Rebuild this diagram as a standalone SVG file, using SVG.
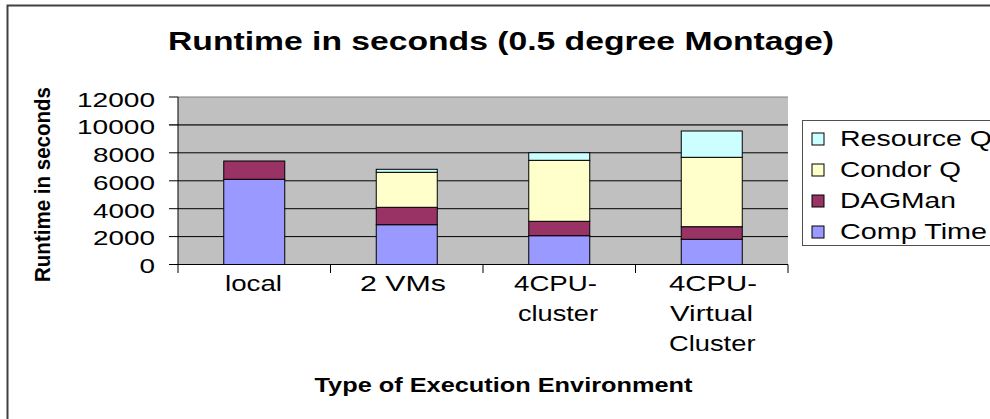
<svg xmlns="http://www.w3.org/2000/svg" width="990" height="419" viewBox="0 0 990 419">
<style>
text{font-family:"Liberation Sans",Arial,sans-serif;fill:#000}
.t{font-size:21.5px}
.n{font-size:20px}
.b{font-weight:bold}
.bar{stroke:#000;stroke-width:1}
.grid{stroke:#000;stroke-width:1}
.ct{fill:#9999FF}.dm{fill:#993366}.cq{fill:#FFFFCC}.rq{fill:#CCFFFF}
</style>
<rect width="990" height="419" fill="#fff"/>
<g id="frame" fill="none" stroke="#404040" stroke-width="2">
<path d="M7.5 419 V5.5 H990"/>
</g>
<g id="title"><text class="b" x="168" y="50" font-size="25" textLength="666" lengthAdjust="spacingAndGlyphs">Runtime in seconds (0.5 degree Montage)</text></g>
<g id="plot">
<rect x="178" y="97" width="610" height="167.5" fill="#C0C0C0"/>
<line x1="178" y1="97" x2="788" y2="97" stroke="#808080"/>
<line x1="169" y1="124.9" x2="788" y2="124.9" stroke="#404040" stroke-width="1.6"/>
<g class="grid">
<line x1="169" y1="152.8" x2="788" y2="152.8"/>
<line x1="169" y1="180.8" x2="788" y2="180.8"/>
<line x1="169" y1="208.7" x2="788" y2="208.7"/>
<line x1="169" y1="236.6" x2="788" y2="236.6"/>
<line x1="169" y1="97" x2="178" y2="97"/>
</g>
</g>
<g id="bar-local" class="bar">
<rect class="ct" x="223.75" y="179.3" width="61" height="85.2"/>
<rect class="dm" x="223.75" y="161" width="61" height="18.3"/>
</g>
<g id="bar-2vms" class="bar">
<rect class="ct" x="376.25" y="224.7" width="61" height="39.8"/>
<rect class="dm" x="376.25" y="207.3" width="61" height="17.4"/>
<rect class="cq" x="376.25" y="172.3" width="61" height="35"/>
<rect class="rq" x="376.25" y="169.3" width="61" height="3"/>
</g>
<g id="bar-4cpu-cluster" class="bar">
<rect class="ct" x="528.75" y="235.7" width="61" height="28.8"/>
<rect class="dm" x="528.75" y="221.3" width="61" height="14.4"/>
<rect class="cq" x="528.75" y="160.3" width="61" height="61"/>
<rect class="rq" x="528.75" y="152.7" width="61" height="7.6"/>
</g>
<g id="bar-4cpu-virtual" class="bar">
<rect class="ct" x="681.25" y="239.3" width="61" height="25.2"/>
<rect class="dm" x="681.25" y="226.7" width="61" height="12.6"/>
<rect class="cq" x="681.25" y="157.3" width="61" height="69.4"/>
<rect class="rq" x="681.25" y="131" width="61" height="26.3"/>
</g>
<g id="axes" stroke="#000" stroke-width="1">
<line x1="178" y1="97" x2="178" y2="273"/>
<line x1="169" y1="264.5" x2="788" y2="264.5"/>
<line x1="330.5" y1="264.5" x2="330.5" y2="273"/>
<line x1="483" y1="264.5" x2="483" y2="273"/>
<line x1="635.5" y1="264.5" x2="635.5" y2="273"/>
<line x1="788" y1="264.5" x2="788" y2="273"/>
</g>
<g id="y-labels">
<text class="n" x="77" y="106.7" textLength="78" lengthAdjust="spacingAndGlyphs">12000</text>
<text class="n" x="77" y="134.3" textLength="78" lengthAdjust="spacingAndGlyphs">10000</text>
<text class="n" x="93" y="161.7" textLength="62" lengthAdjust="spacingAndGlyphs">8000</text>
<text class="n" x="93" y="190" textLength="62" lengthAdjust="spacingAndGlyphs">6000</text>
<text class="n" x="93" y="217.7" textLength="62" lengthAdjust="spacingAndGlyphs">4000</text>
<text class="n" x="93" y="245" textLength="62" lengthAdjust="spacingAndGlyphs">2000</text>
<text class="n" x="139.5" y="272.7" textLength="15.5" lengthAdjust="spacingAndGlyphs">0</text>
</g>
<g id="y-title"><text class="t b" transform="translate(50,282) rotate(-90)" x="0" y="0" textLength="195" lengthAdjust="spacingAndGlyphs">Runtime in seconds</text></g>
<g id="x-labels">
<text class="t" x="225" y="291" textLength="57" lengthAdjust="spacingAndGlyphs">local</text>
<text class="t" x="360" y="291" textLength="86" lengthAdjust="spacingAndGlyphs">2 VMs</text>
<text class="t" x="514" y="291" textLength="83" lengthAdjust="spacingAndGlyphs">4CPU-</text>
<text class="t" x="518" y="321" textLength="80" lengthAdjust="spacingAndGlyphs">cluster</text>
<text class="t" x="669" y="291" textLength="88" lengthAdjust="spacingAndGlyphs">4CPU-</text>
<text class="t" x="670" y="321" textLength="83" lengthAdjust="spacingAndGlyphs">Virtual</text>
<text class="t" x="669" y="351" textLength="86.5" lengthAdjust="spacingAndGlyphs">Cluster</text>
</g>
<g id="x-title"><text class="b" x="314.5" y="392" font-size="19.5" textLength="378" lengthAdjust="spacingAndGlyphs">Type of Execution Environment</text></g>
<g id="legend">
<rect x="802.5" y="120.5" width="200" height="125" fill="#fff" stroke="#505050"/>
<rect class="rq bar" x="812" y="133" width="12" height="12"/>
<rect class="cq bar" x="812" y="164" width="12" height="12"/>
<rect class="dm bar" x="812" y="195" width="12" height="12"/>
<rect class="ct bar" x="812" y="226" width="12" height="12"/>
<text class="t" x="840" y="146" textLength="152" lengthAdjust="spacingAndGlyphs">Resource Q</text>
<text class="t" x="840" y="177" textLength="121" lengthAdjust="spacingAndGlyphs">Condor Q</text>
<text class="t" x="840" y="208" textLength="116" lengthAdjust="spacingAndGlyphs">DAGMan</text>
<text class="t" x="840" y="238.5" textLength="147" lengthAdjust="spacingAndGlyphs">Comp Time</text>
</g>
</svg>
